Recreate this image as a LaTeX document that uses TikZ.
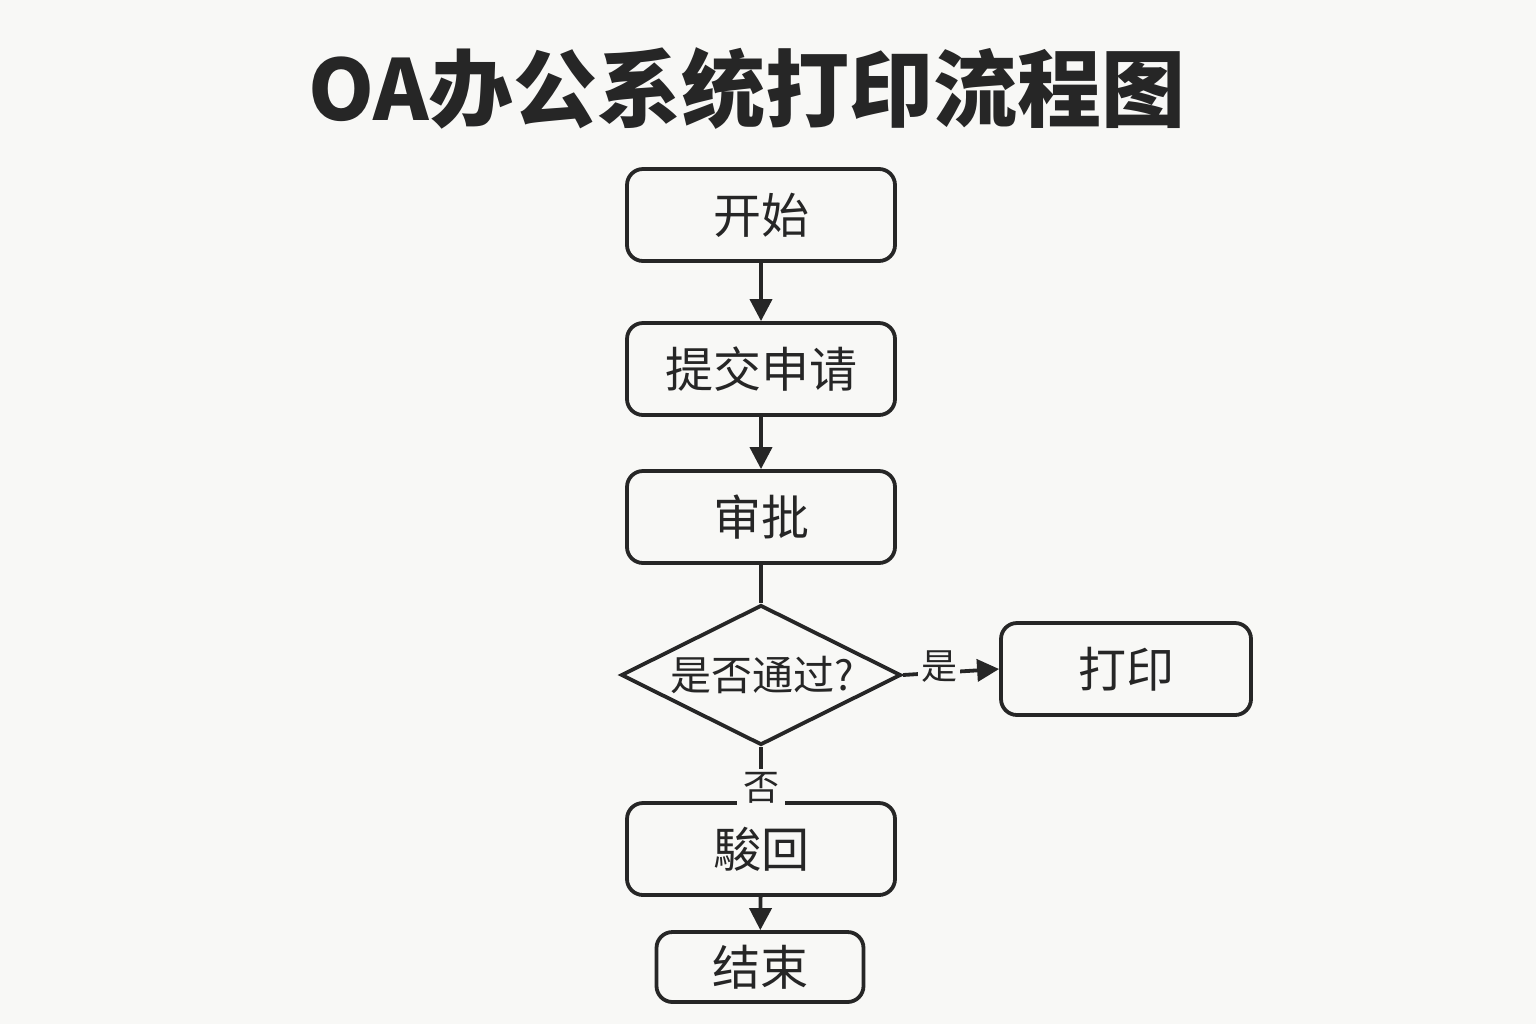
\documentclass[tikz,border=0pt]{standalone}
\usepackage{fontspec}
\newfontfamily\cjk{Noto Sans CJK SC}
\usetikzlibrary{shapes.geometric,arrows.meta}
\definecolor{bg}{HTML}{F8F8F6}
\definecolor{ink}{HTML}{262626}
\begin{document}
\begin{tikzpicture}[x=0.5pt,y=-0.5pt,
  box/.style={draw=ink,line width=1.9pt,rounded corners=8pt,minimum width=134pt,minimum height=46pt,inner sep=0pt,font=\cjk\fontsize{24}{28}\selectfont,text=ink},
  dec/.style={draw=ink,line width=1.9pt,diamond,aspect=2,minimum width=140pt,minimum height=70pt,inner sep=0pt},
  conn/.style={draw=ink,line width=1.9pt},
  arr/.style={conn,-{Triangle[length=11pt,width=11pt]}},
  lbl/.style={fill=bg,inner sep=1.5pt,font=\cjk\fontsize{18}{20}\selectfont,text=ink}]
\fill[bg] (0,0) rectangle (1536,1024);
\useasboundingbox (0,0) rectangle (1536,1024);
\node[font=\cjk\bfseries\fontsize{42}{48}\selectfont,text=ink] (title) at (747,88) {OA办公系统打印流程图};
\node[box] (start) at (761,215) {开始};
\node[box] (submit) at (761,369) {提交申请};
\node[box] (approve) at (761,517) {审批};
\node[dec] (check) at (761,675) {};
\node[font=\cjk\fontsize{20.5}{24}\selectfont,text=ink,inner sep=0pt] (checktext) at (762,675) {是否通过?};
\node[box,minimum width=125pt] (print) at (1126,669) {打印};
\node[box] (reject) at (761,849) {駿回};
\node[box,minimum width=103.5pt,minimum height=35pt] (end) at (760,967) {结束};
\draw[arr] (start) -- (submit);
\draw[arr] (submit) -- (approve);
\draw[conn] (approve) -- (check.north);
\draw[arr] (check.east) -- node[lbl,pos=0.38,yshift=3pt] (yes) {是} (print.west);
\draw[conn] (check.south) -- (reject.north);
\node[lbl,inner xsep=3pt] (no) at (761,788) {否};
\draw[arr] (reject) -- (end);
\end{tikzpicture}
\end{document}
